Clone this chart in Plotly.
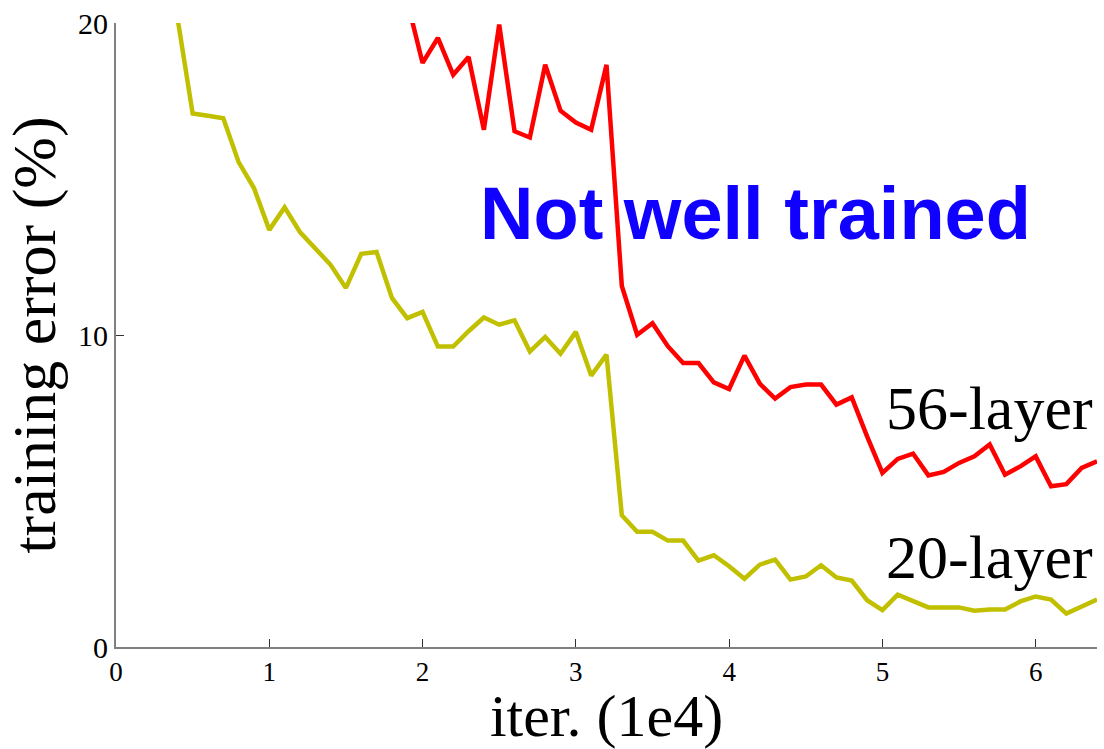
import plotly.graph_objects as go

# iterations (1e4)
x_20 = [0.4, 0.5, 0.6, 0.7, 0.8, 0.9, 1.0, 1.1, 1.2, 1.3, 1.4, 1.5, 1.6, 1.7, 1.8, 1.9,
        2.0, 2.1, 2.2, 2.3, 2.4, 2.5, 2.6, 2.7, 2.8, 2.9, 3.0, 3.1, 3.2, 3.3, 3.4, 3.5,
        3.6, 3.7, 3.8, 3.9, 4.0, 4.1, 4.2, 4.3, 4.4, 4.5, 4.6, 4.7, 4.8, 4.9, 5.0, 5.1,
        5.2, 5.3, 5.4, 5.5, 5.6, 5.7, 5.8, 5.9, 6.0, 6.1, 6.2, 6.3, 6.4]
err_20 = [20.2, 17.1, 17.03, 16.95, 15.54, 14.71, 13.37, 14.09, 13.30, 12.79, 12.25, 11.51,
          12.6, 12.66, 11.19, 10.54, 10.74, 9.63, 9.63, 10.12, 10.56, 10.33, 10.47, 9.47,
          9.94, 9.40, 10.10, 8.70, 9.37, 4.22, 3.69, 3.69, 3.41, 3.41, 2.77, 2.94, 2.59,
          2.19, 2.64, 2.80, 2.16, 2.26, 2.62, 2.23, 2.13, 1.50, 1.18, 1.68, 1.49, 1.27,
          1.27, 1.27, 1.16, 1.20, 1.20, 1.46, 1.62, 1.52, 1.07, 1.28, 1.52]

x_56 = [1.9, 2.0, 2.1, 2.2, 2.3, 2.4, 2.5, 2.6, 2.7, 2.8, 2.9, 3.0, 3.1, 3.2, 3.3, 3.4,
        3.5, 3.6, 3.7, 3.8, 3.9, 4.0, 4.1, 4.2, 4.3, 4.4, 4.5, 4.6, 4.7, 4.8, 4.9, 5.0,
        5.1, 5.2, 5.3, 5.4, 5.5, 5.6, 5.7, 5.8, 5.9, 6.0, 6.1, 6.2, 6.3, 6.4]
err_56 = [20.7, 18.72, 19.52, 18.34, 18.91, 16.58, 19.95, 16.53, 16.33, 18.66, 17.19, 16.81,
          16.58, 18.66, 11.57, 10.01, 10.38, 9.64, 9.10, 9.10, 8.48, 8.27, 9.34, 8.44, 7.96,
          8.33, 8.41, 8.41, 7.77, 8.00, 6.75, 5.58, 6.03, 6.20, 5.50, 5.61, 5.90, 6.11,
          6.49, 5.52, 5.79, 6.11, 5.15, 5.22, 5.74, 5.95]

x_ticks = [0, 1, 2, 3, 4, 5, 6]
y_ticks = [0, 10, 20]

SERIF = "Liberation Serif, Times New Roman, serif"
SANS = "Liberation Sans, Arial, sans-serif"

fig = go.Figure()
fig.add_trace(go.Scatter(x=x_20, y=err_20, mode="lines", name="20-layer",
                         line=dict(color="#c0c000", width=4.5)))
fig.add_trace(go.Scatter(x=x_56, y=err_56, mode="lines", name="56-layer",
                         line=dict(color="#ff0000", width=4.5)))

fig.add_annotation(x=2.36, y=13.9, xref="x", yref="y", text="<b>Not well trained</b>",
                   showarrow=False, xanchor="left", yanchor="middle",
                   font=dict(family=SANS, size=74, color="#1000ff"))
fig.add_annotation(x=5.01, y=7.65, xref="x", yref="y", text="56-layer",
                   showarrow=False, xanchor="left", yanchor="middle",
                   font=dict(family=SERIF, size=62, color="black"))
fig.add_annotation(x=5.01, y=2.88, xref="x", yref="y", text="20-layer",
                   showarrow=False, xanchor="left", yanchor="middle",
                   font=dict(family=SERIF, size=62, color="black"))

fig.update_layout(
    width=1104, height=749,
    margin=dict(l=116, r=7, t=23, b=102),
    paper_bgcolor="white", plot_bgcolor="white",
    showlegend=False,
    font=dict(family=SERIF, color="black"),
)
fig.update_xaxes(
    range=[0, 6.4], tickvals=x_ticks, ticktext=[str(v) for v in x_ticks],
    showgrid=False, zeroline=False, showline=True, linecolor="#808080", linewidth=2,
    ticks="inside", ticklen=8, tickwidth=1, tickcolor="#333333",
    tickfont=dict(family=SERIF, size=27, color="black"),
    title=dict(text="iter. (1e4)", font=dict(family=SERIF, size=60, color="black"), standoff=5),
    automargin=False,
)
fig.update_yaxes(
    range=[0, 20], tickvals=y_ticks, ticktext=[str(v) for v in y_ticks],
    showgrid=False, zeroline=False, showline=True, linecolor="#808080", linewidth=2,
    ticks="inside", ticklen=8, tickwidth=1, tickcolor="#333333",
    tickfont=dict(family=SERIF, size=30, color="black"),
    title=dict(text="training error (%)", font=dict(family=SERIF, size=62, color="black"), standoff=6),
    automargin=False,
)

fig.write_html("out.html")
